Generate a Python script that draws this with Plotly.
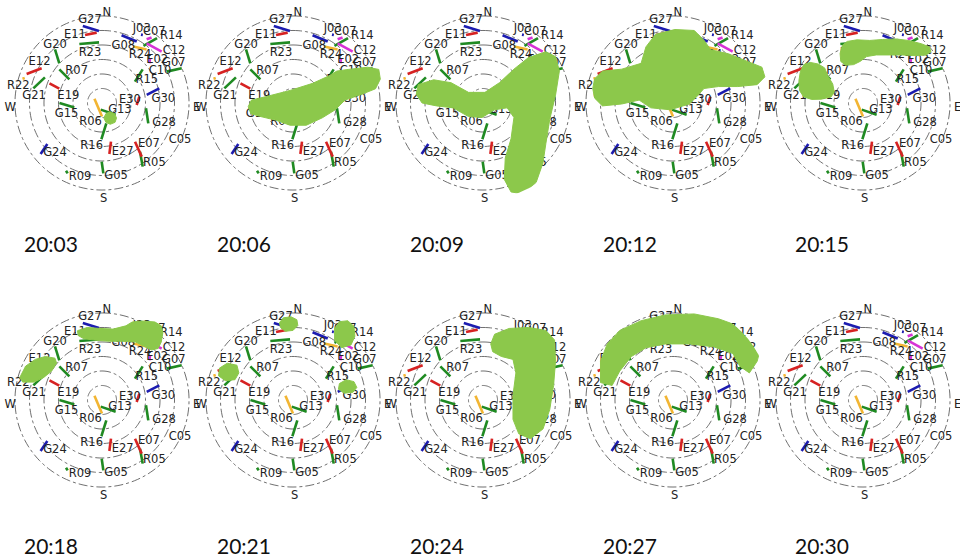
import numpy as np
import plotly.graph_objects as go

# ---------------------------------------------------------------- data
TIMES = ["20:03", "20:06", "20:09", "20:12", "20:15",
         "20:18", "20:21", "20:24", "20:27", "20:30"]

# satellite arcs over the window: azimuth (deg, clockwise from N) and elevation (deg)
SAT_IDS = ["G27", "E11", "R23", "G08", "J03", "C07", "R14", "R24", "C12", "E02", "C10",
           "G07", "R15", "G30", "E30", "G28", "C05", "E07", "R05", "E27", "G05", "R09",
           "G24", "R16", "R06", "G13", "G15", "E19", "R07", "G20", "E12", "G21", "R22"]
AZ_START = [346.0, 346.0, 339.0, 16.1, 29.7, 35.0, 36.0, 29.0, 36.8, 47.0, np.nan,
            64.1, 57.0, 79.8, 80.4, 96.9, np.nan, 139.5, 142.0, 166.9, 180.3, 208.0,
            230.3, 168.0, 300.0, 191.0, 270.0, 290.5, 308.3, 318.8, 291.0, 282.0, 287.0]
EL_START = [8.0, 17.5, 24.6, 17.0, 8.6, 9.5, 17.1, 23.3, 13.0, 22.0, np.nan,
            15.7, 49.4, 43.0, 50.8, 44.2, np.nan, 37.4, 26.1, 49.0, 29.3, 10.7,
            7.5, 68.5, 81.0, 83.0, 46.0, 32.0, 33.8, 16.2, 6.5, 17.4, 4.0]
AZ_END = [357.6, 355.7, 357.2, 29.5, 31.0, 37.1, 40.3, 39.8, 49.3, 50.0, np.nan,
          66.5, 50.4, 75.6, 93.3, 113.7, np.nan, 143.5, 147.4, 171.8, 178.9, 206.0,
          233.1, 181.0, 180.0, 130.5, 261.0, 288.6, 305.9, 312.9, 299.9, 294.2, 288.0]
EL_END = [15.5, 17.0, 27.2, 17.0, 8.0, 5.0, 2.0, 18.0, 8.6, 26.0, np.nan,
          0.1, 35.4, 28.8, 54.1, 37.7, np.nan, 21.0, 11.9, 36.7, 17.2, 9.0,
          19.3, 52.5, 76.0, 71.4, 61.0, 43.4, 48.3, 29.7, 18.0, 25.3, 6.0]

# irregularity patches per epoch, outlines as (east, north) in zenith-angle degrees
PATCHES = {
    "20:03": [[(8.5, -9), (13, -11), (15, -15.5), (13.5, -20), (8.5, -22), (4, -20),
               (2, -15.5), (4, -11)]],
    "20:06": [[(-46.3, -3.7), (-43, 3), (-26.3, 7), (-3, 13), (20.3, 20.3), (37, 28),
               (45.3, 33), (57, 34.7), (77, 37), (88.7, 34.7), (90.3, 24.7), (85.3, 14.7),
               (70.3, 8.7), (53.7, 3), (43.7, -7), (30.3, -15.3), (13.7, -23), (-3, -23),
               (-18, -17.7), (-34.7, -13.7), (-43.7, -11)]],
    "20:09": [[(-67, 19), (-51, 24), (-33, 21), (-15, 11), (2, 11), (17, 21), (32, 35),
               (47, 47), (65, 53), (75, 48), (79, 33), (75, 8), (69, -17), (65, -42),
               (62, -62), (55, -82), (42, -94), (29, -92), (22, -79), (23, -57), (29, -37),
               (32, -15), (25, -5), (12, -7), (-1, -15), (-15, -14), (-31, -5), (-48, -3),
               (-63, 0), (-69, 9)]],
    "20:12": [[(-81, 25), (-73, 33), (-53, 35), (-33, 41), (-28, 58), (-18, 71), (2, 76),
               (22, 75), (32, 65), (39, 55), (57, 51), (77, 43), (92, 37), (95, 27),
               (87, 19), (67, 17), (47, 17), (32, 15), (25, 7), (17, -1), (-3, -7),
               (-23, -5), (-35, 3), (-53, -1), (-73, -3), (-81, 5), (-83, 15)]],
    "20:15": [[(-21.3, 59.7), (-16.3, 63.7), (-6.3, 65.3), (7, 64.7), (20.3, 65.7),
               (33.7, 66.3), (47, 64.7), (60.3, 61.3), (68.7, 58), (70.3, 53), (65.3, 49.7),
               (53.7, 49), (40.3, 49.7), (27, 49.7), (13.7, 49.7), (3.7, 48), (-3, 43),
               (-9.7, 39.7), (-18, 39), (-23, 43), (-23.7, 51.3)],
              [(-61.3, 39.7), (-54.7, 42), (-46.3, 40.3), (-39.7, 36.3), (-36.3, 28),
               (-31.3, 19.7), (-29.7, 11.3), (-33, 6.3), (-43, 4), (-53, 3.7), (-61.3, 6.3),
               (-65.7, 13), (-66.3, 23), (-64.7, 33)]],
    "20:18": [[(-25.3, 71.7), (-15.3, 75), (-2, 74), (11.3, 73.3), (24.7, 76.7),
               (31.3, 80.7), (41.3, 81.7), (54.7, 80.7), (61.3, 76.7), (63, 70), (61.3, 60),
               (58, 53.3), (51.3, 51.7), (44.7, 55), (34.7, 60), (21.3, 60.7), (8, 60.7),
               (-5.3, 61.7), (-18.7, 63.3), (-24.7, 66.7)],
              [(-85, 23.3), (-79, 35), (-69, 42), (-58.7, 45), (-48.7, 43.3), (-47, 38.3),
               (-52, 30), (-60.3, 23.3), (-70.3, 18.5), (-82, 18.5)]],
    "20:21": [[(-14, 80), (-10, 85), (-2, 86), (4, 83), (5, 77), (0, 72), (-8, 71), (-13, 75)],
              [(43, 74), (48, 81), (57, 82), (63, 76), (64, 66), (60, 57), (50, 54), (43, 62)],
              [(-76, 33), (-68, 38), (-58, 36), (-56, 28), (-60, 21), (-70, 20), (-77, 25)],
              [(48, 17), (55, 21), (63, 19), (66, 13), (62, 8), (53, 7), (47, 11)]],
    "20:24": [[(8, 58), (12, 68), (27, 74), (47, 75), (65, 72), (74, 62), (75, 40), (73, 15),
               (69, -10), (62, -30), (49, -40), (37, -35), (31, -20), (31, 5), (34, 28),
               (31, 42), (19, 45), (10, 50)]],
    "20:27": [[(-75, 18), (-75, 40), (-68, 58), (-55, 72), (-33, 82), (-8, 88), (22, 89),
               (47, 84), (72, 75), (87, 68), (91, 55), (87, 40), (79, 28), (69, 35),
               (62, 48), (42, 55), (17, 58), (-8, 58), (-28, 54), (-43, 45), (-55, 30),
               (-63, 15)]],
    "20:30": [],
}

# ---------------------------------------------------------------- styling
GREEN, RED, BLUE, ORANGE, MAGENTA = "#1f8a22", "#d62222", "#1c1cb0", "#f2b533", "#d633d6"
SAT_COLOR = {
    "G27": BLUE, "E11": RED, "R23": GREEN, "G08": BLUE, "J03": BLUE, "C07": MAGENTA,
    "R14": GREEN, "R24": ORANGE, "C12": MAGENTA, "E02": MAGENTA, "C10": MAGENTA,
    "G07": GREEN, "R15": GREEN, "G30": BLUE, "E30": RED, "G28": GREEN, "C05": GREEN,
    "E07": RED, "R05": GREEN, "E27": RED, "G05": GREEN, "R09": GREEN, "G24": BLUE,
    "R16": GREEN, "R06": ORANGE, "G13": GREEN, "G15": GREEN, "E19": RED, "R07": GREEN,
    "G20": GREEN, "E12": RED, "G21": GREEN, "R22": ORANGE,
}
# label placement (azimuth, zenith distance); kept inside the radial range
LABEL_POS = {
    "G27": (351.7, 86.3), "E11": (338.4, 76), "R23": (346.4, 53), "G08": (20.5, 63),
    "J03": (28.3, 86.6), "C07": (36.6, 90.7), "R14": (46, 99.5), "R24": (38.4, 63.3),
    "C12": (54, 92), "E02": (52, 72.5), "C10": (60.9, 68.7), "G07": (61, 85),
    "R15": (62.8, 52), "G30": (86, 63.6), "E30": (85, 29), "G28": (107.6, 67.3),
    "C05": (115.4, 89.3), "E07": (131.3, 64.7), "R05": (139, 82.6), "E27": (157, 54.7),
    "G05": (169, 76.6), "R09": (196.6, 79.5), "G24": (223.4, 70.8), "R16": (193.5, 45.7),
    "R06": (211, 23), "G13": (112, 20), "G15": (253, 38.3), "E19": (282, 35.6),
    "R07": (321.6, 42.2), "G20": (320.7, 76.7), "E12": (303, 77), "G21": (276, 70.7),
    "R22": (281.5, 88.3),
}
COMPASS = [("N", 3, 93), ("E", 93, 98), ("S", 179, 99.5), ("W", 267, 95)]
RINGS = [15, 30, 45, 60, 75, 90]
PATCH_COLOR = "#8cc84b"
LABEL_FONT = dict(family="DejaVu Sans", size=11.5, color="#222222")

W, H = 960, 559
R_MAX = 100
R_PX = 96.7
COL_X = [102, 293, 483, 673, 863]
ROW_Y = [103, 400]
TIME_X = [22, 215, 408, 601, 793]
TIME_Y = [243, 545]

fig = go.Figure()
ring_theta = np.linspace(0, 360, 181)

for i, t in enumerate(TIMES):
    row, col = divmod(i, 5)
    name = "polar" if i == 0 else f"polar{i + 1}"
    cx, cy = COL_X[col], ROW_Y[row]
    fig.update_layout(**{name: dict(
        domain=dict(x=[(cx - R_PX) / W, (cx + R_PX) / W],
                    y=[1 - (cy + R_PX) / H, 1 - (cy - R_PX) / H]),
        bgcolor="rgba(0,0,0,0)",
        radialaxis=dict(range=[0, R_MAX], visible=False),
        angularaxis=dict(rotation=90, direction="clockwise", visible=False),
    )})

    # elevation rings
    for ring in RINGS:
        fig.add_trace(go.Scatterpolar(
            r=[ring] * len(ring_theta), theta=ring_theta, mode="lines",
            line=dict(color="#4a4a4a", width=0.8, dash="dashdot"),
            hoverinfo="skip", showlegend=False, subplot=name))

    # satellite arcs grouped by colour
    for colour in (GREEN, RED, BLUE, ORANGE, MAGENTA):
        rr, th = [], []
        for k, sid in enumerate(SAT_IDS):
            if SAT_COLOR[sid] != colour or np.isnan(AZ_START[k]):
                continue
            rr += [90 - EL_START[k], 90 - EL_END[k], None]
            th += [AZ_START[k], AZ_END[k], None]
        fig.add_trace(go.Scatterpolar(
            r=rr, theta=th, mode="lines", line=dict(color=colour, width=2.6),
            hoverinfo="skip", showlegend=False, subplot=name))

    # satellite labels and compass points
    fig.add_trace(go.Scatterpolar(
        r=[LABEL_POS[s][1] for s in SAT_IDS] + [c[2] for c in COMPASS],
        theta=[LABEL_POS[s][0] for s in SAT_IDS] + [c[1] for c in COMPASS],
        text=SAT_IDS + [c[0] for c in COMPASS],
        mode="text", textfont=LABEL_FONT, cliponaxis=False,
        hoverinfo="skip", showlegend=False, subplot=name))

    # irregularity patches
    for outline in PATCHES[t]:
        e = np.array([p[0] for p in outline] + [outline[0][0]])
        n = np.array([p[1] for p in outline] + [outline[0][1]])
        fig.add_trace(go.Scatterpolar(
            r=np.hypot(e, n), theta=np.degrees(np.arctan2(e, n)) % 360,
            mode="lines", fill="toself", fillcolor=PATCH_COLOR,
            line=dict(color=PATCH_COLOR, width=1),
            hoverinfo="skip", showlegend=False, subplot=name))

    fig.add_annotation(
        x=TIME_X[col] / W, y=1 - TIME_Y[row] / H, xref="paper", yref="paper",
        text=t, showarrow=False, xanchor="left", yanchor="middle",
        font=dict(family="Lato", size=21, color="#111111"))

fig.update_layout(
    width=W, height=H, margin=dict(l=0, r=0, t=0, b=0),
    paper_bgcolor="white", plot_bgcolor="white", showlegend=False)

fig.write_html("out.html")
